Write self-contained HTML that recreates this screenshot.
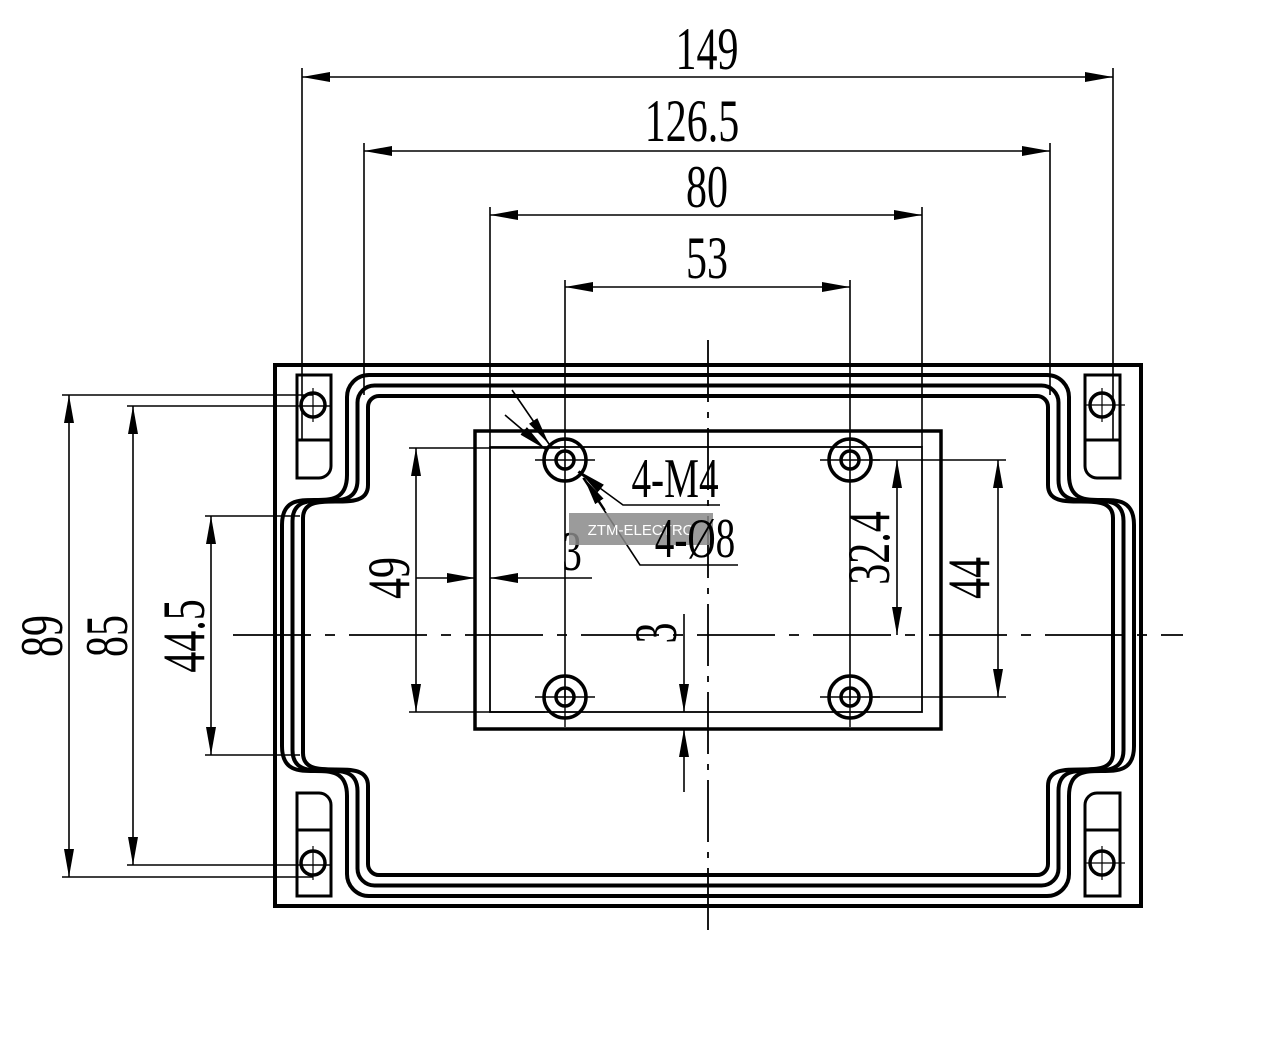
<!DOCTYPE html>
<html><head><meta charset="utf-8"><style>
html,body{margin:0;padding:0;background:#fff;}
svg{display:block;}
text{font-family:"Liberation Serif",serif;fill:#000;}
</style></head><body>
<svg width="1283" height="1059" viewBox="0 0 1283 1059" xmlns="http://www.w3.org/2000/svg">
<defs>
<marker id="a" markerUnits="userSpaceOnUse" markerWidth="30" markerHeight="12" refX="28" refY="5" orient="auto-start-reverse">
<path d="M0,0 L28,5 L0,10 Z" fill="#000"/>
</marker>
</defs>
<rect width="1283" height="1059" fill="#fff"/>
<g stroke="#000" fill="none">
<rect x="275" y="365" width="866" height="541" stroke-width="4"/>
<g stroke-width="4">
<path d="M369,375 H1047 A22 22 0 0 1 1069,397 V475 C1069,525 1134,475 1134,525 V746 C1134,796 1069,746 1069,796 V874 A22 22 0 0 1 1047,896 H369 A22 22 0 0 1 347,874 V796 C347,746 282,796 282,746 V525 C282,475 347,525 347,475 V397 A22 22 0 0 1 369,375 Z"/>
<path d="M374.5,385.5 H1041.5 A17 17 0 0 1 1058.5,402.5 V480 C1058.5,521 1123.5,480 1123.5,521 V750 C1123.5,791 1058.5,750 1058.5,791 V868.5 A17 17 0 0 1 1041.5,885.5 H374.5 A17 17 0 0 1 357.5,868.5 V791 C357.5,750 292.5,791 292.5,750 V521 C292.5,480 357.5,521 357.5,480 V402.5 A17 17 0 0 1 374.5,385.5 Z"/>
<path d="M379,396 H1037 A11 11 0 0 1 1048,407 V485 C1048,518 1113,485 1113,518 V753 C1113,786 1048,753 1048,786 V864 A11 11 0 0 1 1037,875 H379 A11 11 0 0 1 368,864 V786 C368,753 303,786 303,753 V518 C303,485 368,518 368,485 V407 A11 11 0 0 1 379,396 Z"/>
</g>
<g stroke-width="3">
<path d="M297,375 H331 V466 A12 12 0 0 1 319,478 H297 Z"/><line x1="297" y1="440" x2="331" y2="440"/>
<path d="M297,896 H331 V805 A12 12 0 0 0 319,793 H297 Z"/><line x1="297" y1="830" x2="331" y2="830"/>
<path d="M1120,375 H1085 V466 A12 12 0 0 0 1097,478 H1120 Z"/><line x1="1085" y1="440" x2="1120" y2="440"/>
<path d="M1120,896 H1085 V805 A12 12 0 0 1 1097,793 H1120 Z"/><line x1="1085" y1="830" x2="1120" y2="830"/>
<circle cx="313" cy="405" r="12" stroke-width="3.5"/><circle cx="1102" cy="405" r="12" stroke-width="3.5"/>
<circle cx="313" cy="863" r="12" stroke-width="3.5"/><circle cx="1102" cy="863" r="12" stroke-width="3.5"/>
</g>
<g stroke-width="1.2">
<line x1="313" y1="388" x2="313" y2="422"/><line x1="1102" y1="388" x2="1102" y2="422"/>
<line x1="313" y1="846" x2="313" y2="880"/><line x1="1102" y1="846" x2="1102" y2="880"/>
<line x1="1085" y1="405" x2="1125" y2="405"/><line x1="1085" y1="863" x2="1125" y2="863"/>
</g>
<rect x="475" y="431" width="466" height="298" stroke-width="3.5"/>
<rect x="490" y="447" width="432" height="265" stroke-width="1.8"/>
<g stroke-width="3.5">
<circle cx="565" cy="460" r="21"/><circle cx="565" cy="460" r="9"/>
<circle cx="850" cy="460" r="21"/><circle cx="850" cy="460" r="9"/>
<circle cx="565" cy="697" r="21"/><circle cx="565" cy="697" r="9"/>
<circle cx="850" cy="697" r="21"/><circle cx="850" cy="697" r="9"/>
</g>
<g stroke-width="1.4">
<line x1="535" y1="460" x2="595" y2="460"/><line x1="820" y1="460" x2="880" y2="460"/>
<line x1="535" y1="697" x2="595" y2="697"/><line x1="820" y1="697" x2="880" y2="697"/>
<line x1="850" y1="687" x2="850" y2="727"/><line x1="565" y1="687" x2="565" y2="727"/>
</g>
<line x1="708" y1="340" x2="708" y2="932" stroke-width="1.8" stroke-dasharray="62,10,6,10"/>
<line x1="233" y1="635" x2="1183" y2="635" stroke-width="1.8" stroke-dasharray="78,14,10,14"/>
<g stroke-width="1.6">
<line x1="302" y1="68" x2="302" y2="440"/><line x1="1113" y1="68" x2="1113" y2="440"/>
<line x1="302" y1="77" x2="1113" y2="77" marker-start="url(#a)" marker-end="url(#a)"/>
<line x1="364" y1="143" x2="364" y2="395"/><line x1="1050" y1="143" x2="1050" y2="395"/>
<line x1="364" y1="151" x2="1050" y2="151" marker-start="url(#a)" marker-end="url(#a)"/>
<line x1="490" y1="207" x2="490" y2="447"/><line x1="922" y1="207" x2="922" y2="447"/>
<line x1="490" y1="215" x2="922" y2="215" marker-start="url(#a)" marker-end="url(#a)"/>
<line x1="565" y1="280" x2="565" y2="700"/><line x1="850" y1="280" x2="850" y2="700"/>
<line x1="565" y1="287" x2="850" y2="287" marker-start="url(#a)" marker-end="url(#a)"/>
<line x1="62" y1="395" x2="313" y2="395"/><line x1="62" y1="877" x2="313" y2="877"/>
<line x1="69" y1="395" x2="69" y2="877" marker-start="url(#a)" marker-end="url(#a)"/>
<line x1="127" y1="406" x2="330" y2="406"/><line x1="127" y1="865" x2="330" y2="865"/>
<line x1="133" y1="406" x2="133" y2="865" marker-start="url(#a)" marker-end="url(#a)"/>
<line x1="205" y1="516" x2="300" y2="516"/><line x1="205" y1="755" x2="300" y2="755"/>
<line x1="211" y1="516" x2="211" y2="755" marker-start="url(#a)" marker-end="url(#a)"/>
<line x1="409" y1="448" x2="560" y2="448"/><line x1="409" y1="712" x2="545" y2="712"/>
<line x1="416" y1="448" x2="416" y2="712" marker-start="url(#a)" marker-end="url(#a)"/>
<line x1="416" y1="578" x2="475" y2="578" marker-end="url(#a)"/>
<line x1="592" y1="578" x2="490" y2="578" marker-end="url(#a)"/>
<line x1="870" y1="460" x2="1006" y2="460"/><line x1="870" y1="697" x2="1006" y2="697"/>
<line x1="897" y1="460" x2="897" y2="635" marker-start="url(#a)" marker-end="url(#a)"/>
<line x1="998" y1="460" x2="998" y2="697" marker-start="url(#a)" marker-end="url(#a)"/>
<line x1="684" y1="614" x2="684" y2="712" marker-end="url(#a)"/>
<line x1="684" y1="792" x2="684" y2="729" marker-end="url(#a)"/>
<line x1="512" y1="390" x2="549" y2="444" marker-end="url(#a)"/>
<line x1="505" y1="415" x2="545" y2="449" marker-end="url(#a)"/>
<polyline points="720,505 623,505 578,472"/>
<line x1="600" y1="488" x2="579" y2="471" marker-end="url(#a)"/>
<polyline points="738,565 640,565 583,478"/>
<line x1="605" y1="510" x2="584" y2="478" marker-end="url(#a)"/>
</g>
</g>
<g font-size="60">
<text transform="translate(707,69) scale(0.7,1)" text-anchor="middle">149</text>
<text transform="translate(692,141) scale(0.7,1)" text-anchor="middle">126.5</text>
<text transform="translate(707,207) scale(0.7,1)" text-anchor="middle">80</text>
<text transform="translate(707,278) scale(0.7,1)" text-anchor="middle">53</text>
<text transform="translate(62,636) rotate(-90) scale(0.7,1)" text-anchor="middle">89</text>
<text transform="translate(127,636) rotate(-90) scale(0.7,1)" text-anchor="middle">85</text>
<text transform="translate(204,636) rotate(-90) scale(0.7,1)" text-anchor="middle">44.5</text>
<text transform="translate(409,578) rotate(-90) scale(0.7,1)" text-anchor="middle">49</text>
<text transform="translate(889,548) rotate(-90) scale(0.7,1)" text-anchor="middle">32.4</text>
<text transform="translate(989,578) rotate(-90) scale(0.7,1)" text-anchor="middle">44</text>
<text transform="translate(676,633) rotate(-90) scale(0.7,1)" text-anchor="middle">3</text>
<text transform="translate(572,570) scale(0.7,1)" text-anchor="middle" font-size="56">3</text>
<text transform="translate(675,497) scale(0.7,1)" text-anchor="middle" font-size="56">4-M4</text>
</g>
<rect x="569" y="513" width="144" height="32" fill="#8a8a8a" opacity="0.85"/>
<text x="641" y="535" text-anchor="middle" font-size="15" style="fill:#fff;font-family:'Liberation Sans',sans-serif">ZTM-ELECTRO</text>
<text transform="translate(695,557) scale(0.7,1)" text-anchor="middle" font-size="56">4-Ø8</text>
</svg>
</body></html>
